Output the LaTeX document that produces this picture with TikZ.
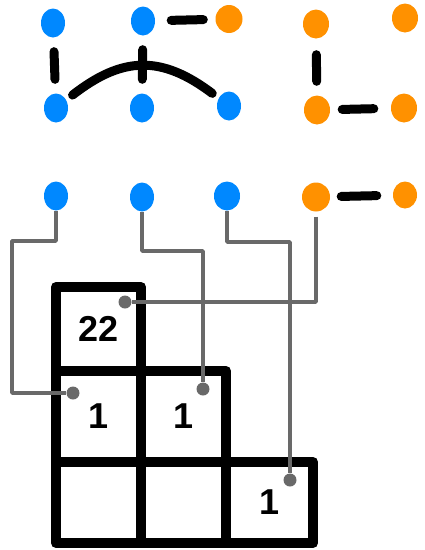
\documentclass[tikz,border=0pt]{standalone}
\usepackage{fontspec}
\setsansfont{Liberation Sans}
\usetikzlibrary{
    calc,
    shapes.geometric
}
\definecolor{dotblue}{RGB}{0,136,255}
\definecolor{dotorange}{RGB}{255,145,0}
\definecolor{wiregray}{RGB}{105,105,105}
\tikzset{
  dot/.style={
    ellipse,
    fill=#1,
    draw=none,
    minimum width=24pt,
    minimum height=29pt,
    inner sep=0pt
  },
  bar/.style={
    black,
    line width=9pt,
    line cap=round,
    shorten <=14pt,
    shorten >=14pt
  },
  wire/.style={
    wiregray,
    line width=3.8pt,
    line join=round
  },
  pin/.style={
    circle,
    fill=wiregray,
    minimum size=13pt,
    inner sep=0pt
  },
  cell/.style={
    draw=black,
    line width=10pt,
    line join=round,
    minimum width=85pt,
    inner sep=0pt,
    font=\sffamily\bfseries\fontsize{36}{36}\selectfont
  }
}

\begin{document}
\begin{tikzpicture}[x=1pt,y=-1pt]
    \useasboundingbox (0,0) rectangle (424,550);

    % 上段（左）
    \node[dot=dotblue] (d1) at (53,23) {};
    \node[dot=dotblue] (d2) at (143,21) {};
    \node[dot=dotorange, minimum width=27pt, minimum height=28pt] (d3) at (229,19) {};
    \node[dot=dotblue] (d4) at (56,108) {};
    \node[dot=dotblue] (d5) at (142,108) {};
    \node[dot=dotblue] (d6) at (229,106) {};
    \draw[bar] (d1) -- (d4);
    \draw[bar] (d2) -- (d5);
    \draw[bar, shorten <=16pt, shorten >=12pt] (d2) -- (d3);
    \draw[bar, shorten <=8pt, shorten >=8pt]
        (d4) to[out=38,in=143,looseness=1.2] (d6);

    % 上段（右）
    \node[dot=dotorange, minimum width=26pt] (e1) at (316,24) {};
    \node[dot=dotorange, minimum width=26pt] (e2) at (405,18) {};
    \node[dot=dotorange, minimum width=26pt] (e3) at (317,110) {};
    \node[dot=dotorange, minimum width=26pt] (e4) at (404,108) {};
    \draw[bar, shorten <=16pt, shorten >=14pt] (e1) -- (e3);
    \draw[bar, shorten <=12pt, shorten >=17pt] (e3) -- (e4);

    % 中段
    \node[dot=dotblue] (b1) at (56,196) {};
    \node[dot=dotblue] (b2) at (142,197) {};
    \node[dot=dotblue, minimum width=26pt] (b3) at (227,196) {};
    \node[dot=dotorange, minimum width=28pt] (b4) at (316,197) {};
    \node[dot=dotorange, minimum width=24pt, minimum height=27pt] (b5) at (405,195) {};
    \draw[bar, shorten <=11pt, shorten >=16pt] (b4) -- (b5);

    % 表
    \node[cell, minimum height=84pt] (c11) at (98.5,329) {22};
    \node[cell, minimum height=91pt] (c21) at (98.5,416.5) {1};
    \node[cell, minimum height=91pt] (c22) at (183.5,416.5) {1};
    \node[cell, minimum height=81pt] (c31) at (98.5,502.5) {};
    \node[cell, minimum height=81pt] (c32) at (183.5,502.5) {};
    \node[cell, minimum height=81pt, minimum width=87pt] (c33) at (269.5,502.5) {1};

    % 配線
    \node[pin] (g1) at (73,393) {};
    \node[pin] (g2) at (203,389) {};
    \node[pin] (g3) at (290,480) {};
    \node[pin] (g4) at (125,302) {};
    \draw[wire] (b1) |- (12,241) |- (g1);
    \draw[wire] (b2) |- (203,251) -- (g2);
    \draw[wire] (b3) |- (290,242) -- (g3);
    \draw[wire, shorten <=5pt] (b4) |- (g4);
\end{tikzpicture}
\end{document}
